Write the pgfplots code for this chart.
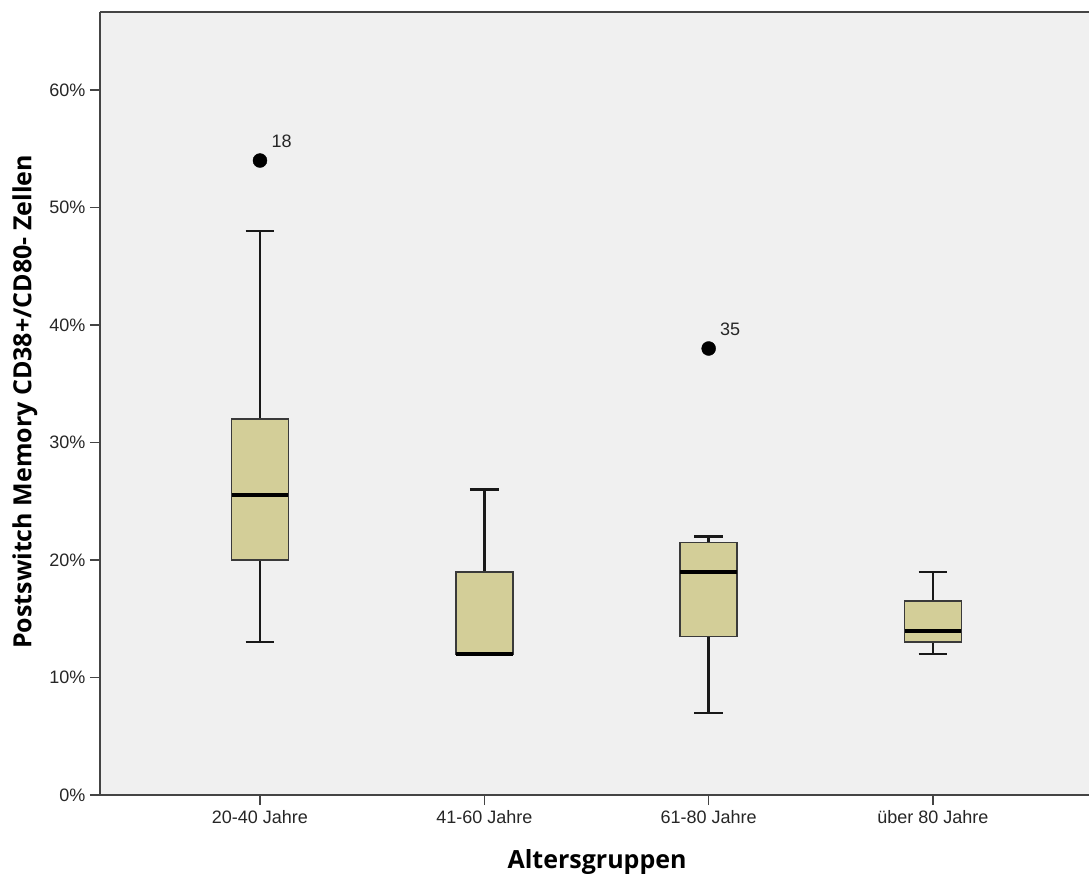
\documentclass[border=0pt]{standalone}
\usepackage{pgfplots}
\pgfplotsset{compat=1.18}
\usepgfplotslibrary{statistics}
\usepackage{fontspec}
\setmainfont{Liberation Sans}
\newfontfamily\labfont{Open Sans}
\definecolor{boxfill}{HTML}{D3CE98}
\definecolor{bg}{HTML}{F0F0F0}
\definecolor{boxedge}{HTML}{3A3A3A}
\definecolor{axgray}{HTML}{444444}
\begin{document}
\begin{tikzpicture}
\useasboundingbox (-100bp,-86bp) rectangle (989bp,783bp+12bp);
\begin{axis}[
  at={(0,0)}, anchor=south west,
  scale only axis, width=989bp, height=783bp,
  xmin=0.2868, xmax=4.6955, ymin=0, ymax=66.64,
  axis background/.style={fill=bg},
  axis x line*=bottom, axis y line*=left,
  axis line style={line width=1.6bp, axgray, -},
  tick style={line width=1.6bp, axgray},
  major tick length=10bp,
  tick align=outside,
  xtick={1,2,3,4},
  xticklabels={20-40 Jahre,41-60 Jahre,61-80 Jahre,über 80 Jahre},
  ytick={0,10,20,30,40,50,60},
  yticklabel={\pgfmathprintnumber{\tick}\%},
  /pgf/number format/assume math mode=true,
  ticklabel style={font=\fontsize{18bp}{21bp}\selectfont, text=black!85},
  xticklabel style={yshift=-2bp},
  yticklabel style={xshift=-1bp},
  boxplot/draw direction=y,
  boxplot/every box/.style={fill=boxfill, draw=boxedge, line width=1.6bp},
  boxplot/every median/.style={line width=4bp, black},
  boxplot/every whisker/.style={line width=2.4bp, black!90},
  clip=false,
]
\addplot[boxplot prepared={draw position=1, median=25.5, upper quartile=32, lower quartile=20, upper whisker=48, lower whisker=13, box extend=0.254, whisker extend=0.129}] coordinates {};
\addplot[boxplot prepared={draw position=2, median=12, upper quartile=19, lower quartile=12, upper whisker=26, lower whisker=12, box extend=0.254, whisker extend=0.129}] coordinates {};
\addplot[boxplot prepared={draw position=3, median=19, upper quartile=21.5, lower quartile=13.5, upper whisker=22, lower whisker=7, box extend=0.254, whisker extend=0.129}] coordinates {};
\addplot[boxplot prepared={draw position=4, median=14, upper quartile=16.5, lower quartile=13, upper whisker=19, lower whisker=12, box extend=0.254, whisker extend=0.129}] coordinates {};
\addplot[only marks, mark=*, mark size=7bp, black,
  point meta=explicit symbolic,
  nodes near coords,
  every node near coord/.style={anchor=base west, xshift=8bp, yshift=13bp, font=\fontsize{18bp}{21bp}\selectfont, text=black!85}]
  coordinates {(1,54) [18] (3,38) [35]};
\draw[line width=1.6bp, axgray] (rel axis cs:0,1) -- (rel axis cs:1,1);
\node[font=\labfont\bfseries\fontsize{25bp}{28bp}\selectfont, anchor=center] at ([yshift=-67bp]rel axis cs:0.5026,0) {Altersgruppen};
\node[font=\labfont\bfseries\fontsize{25bp}{28bp}\selectfont, anchor=center, rotate=90] at ([xshift=-75bp]rel axis cs:0,0.502) {Postswitch Memory CD38+/CD80- Zellen};
\end{axis}
\end{tikzpicture}
\end{document}
